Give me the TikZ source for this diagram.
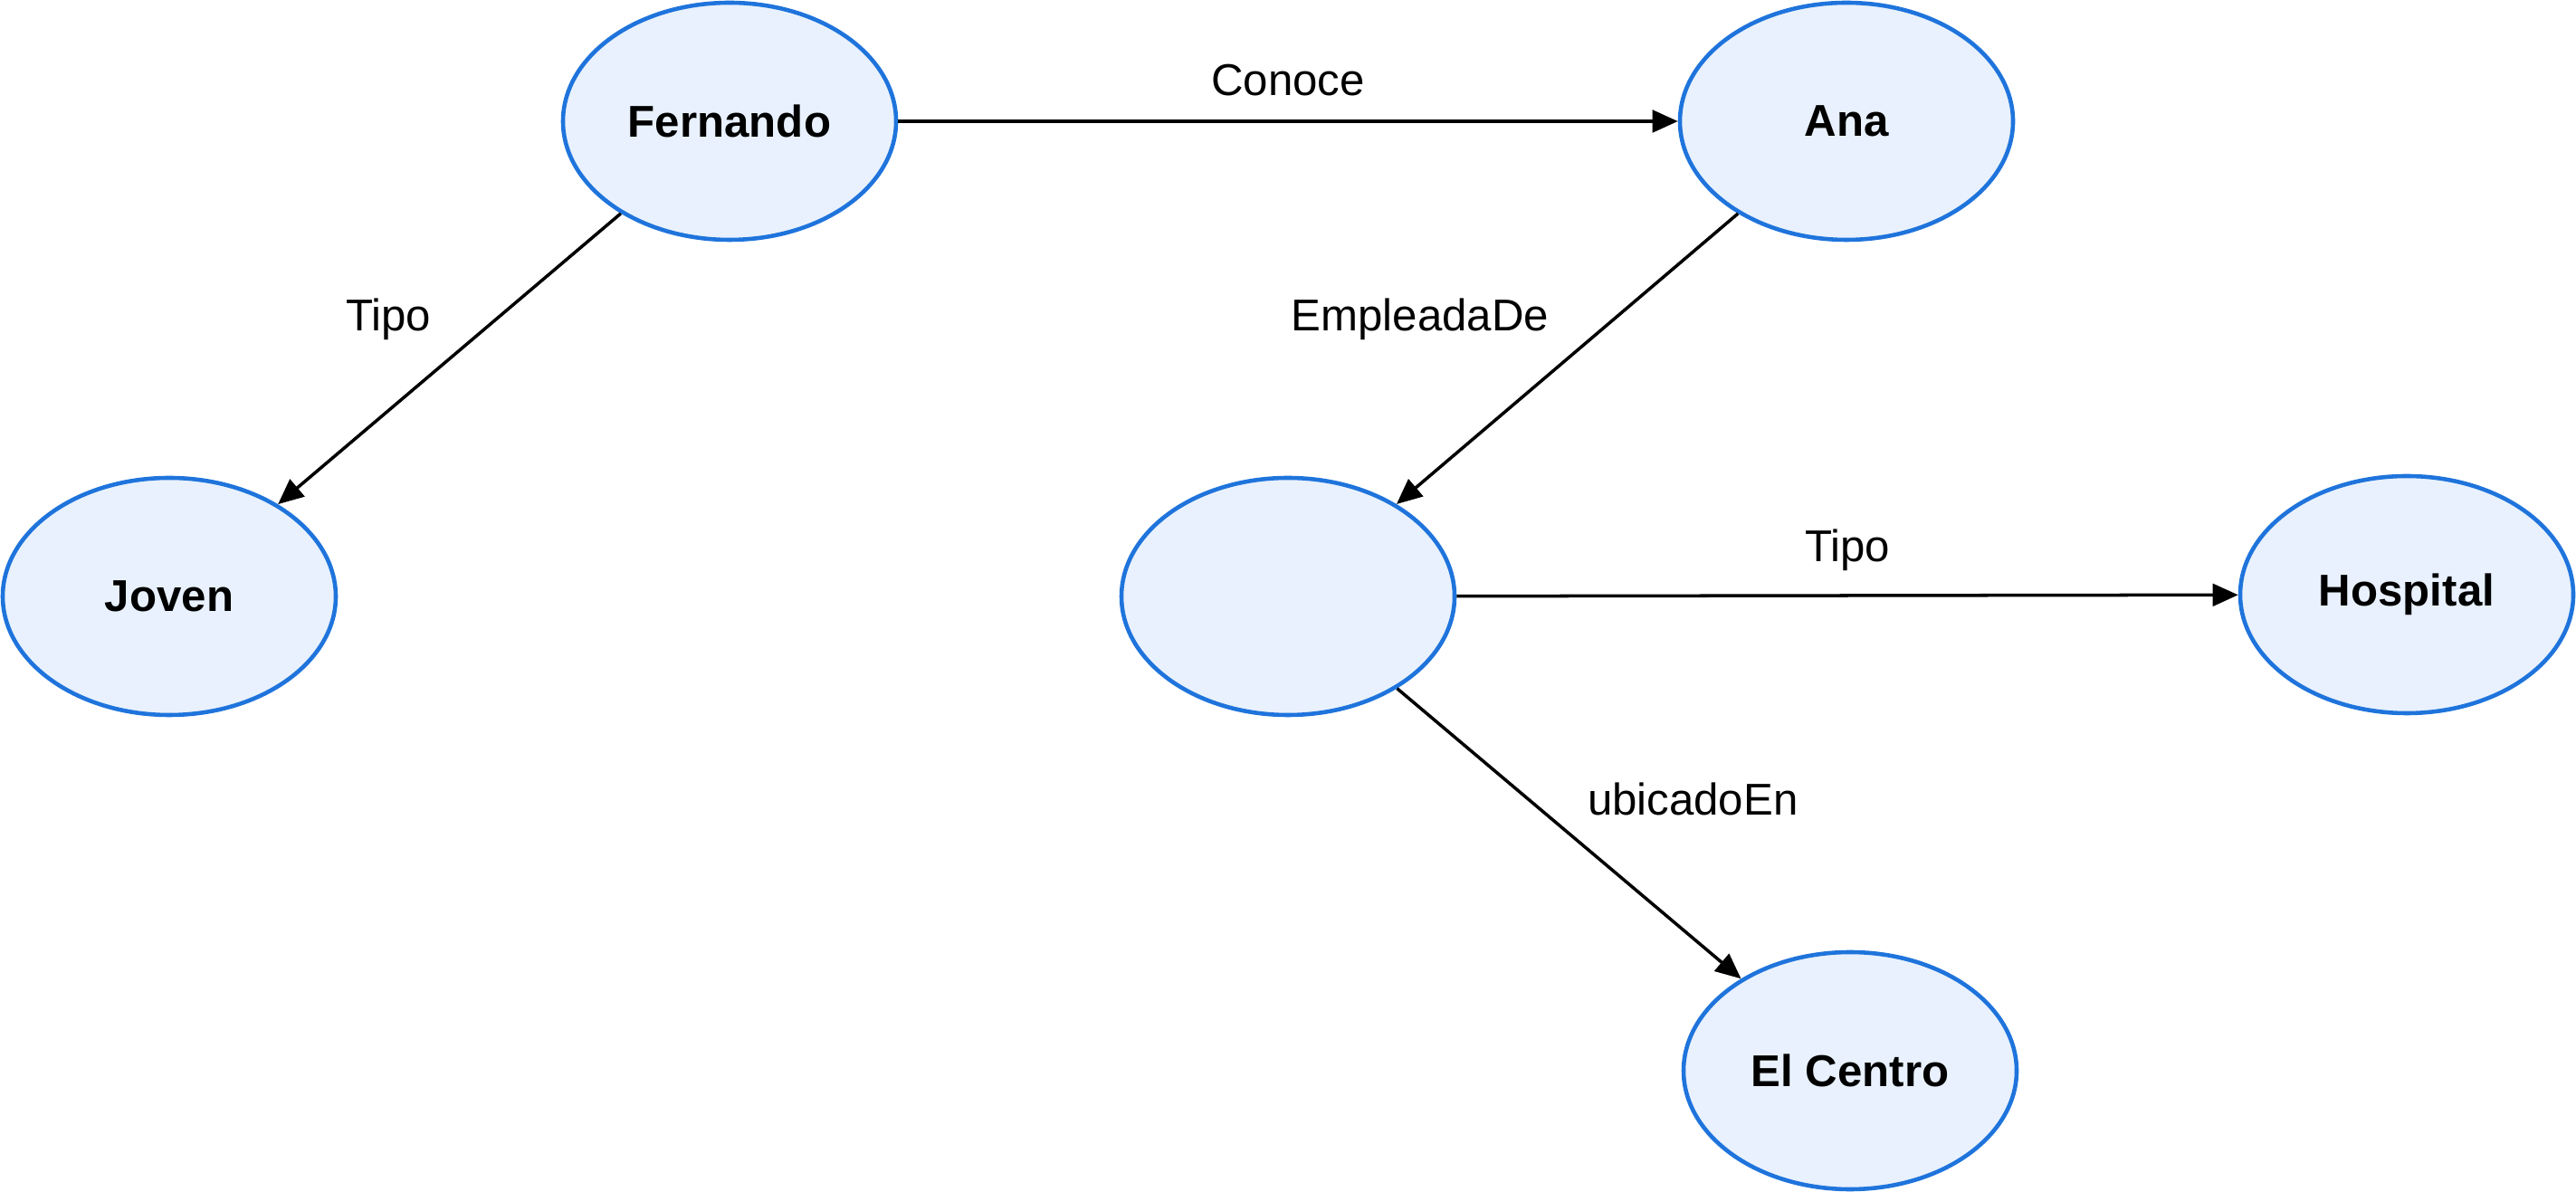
\documentclass[tikz,border=0pt]{standalone}
\usepackage{fontspec}
\setmainfont{Liberation Sans}
\usetikzlibrary{shapes.geometric,arrows.meta}
\definecolor{nodefill}{HTML}{E8F1FD}
\definecolor{nodeline}{HTML}{1F74DC}
\tikzset{
	concept/.style={ellipse, draw=nodeline, fill=nodefill, line width=1.3pt,
		minimum width=3.68cm, minimum height=2.62cm, font=\fontsize{14}{17}\selectfont\bfseries},
	rel/.style={-{Triangle[length=8pt,width=7pt]}, line width=1pt},
	lbl/.style={font=\fontsize{14}{17}\selectfont}
}
\begin{document}
\begin{tikzpicture}
	\useasboundingbox (0,0) rectangle (28.46,13.16);
	\node[concept] (fernando) at (8.06,11.82) {Fernando};
	\node[concept] (ana) at (20.40,11.82) {Ana};
	\node[concept] (joven) at (1.87,6.57) {Joven};
	\node[concept] (lugar) at (14.23,6.57) {};
	\node[concept] (hospital) at (26.59,6.59) {Hospital};
	\node[concept] (centro) at (20.44,1.33) {El Centro};
	\draw[rel] (fernando) -- node[lbl, above=4pt] (conoce) {Conoce} (ana);
	\draw[rel] (fernando) -- node[lbl, above left=2pt] (tipoa) {Tipo} (joven);
	\draw[rel] (ana) -- node[lbl, above left=2pt] (empleada) {EmpleadaDe} (lugar);
	\draw[rel] (lugar) -- node[lbl, above=4pt] (tipob) {Tipo} (hospital);
	\draw[rel] (lugar) -- node[lbl, above right=2pt] (ubicado) {ubicadoEn} (centro);
\end{tikzpicture}
\end{document}
